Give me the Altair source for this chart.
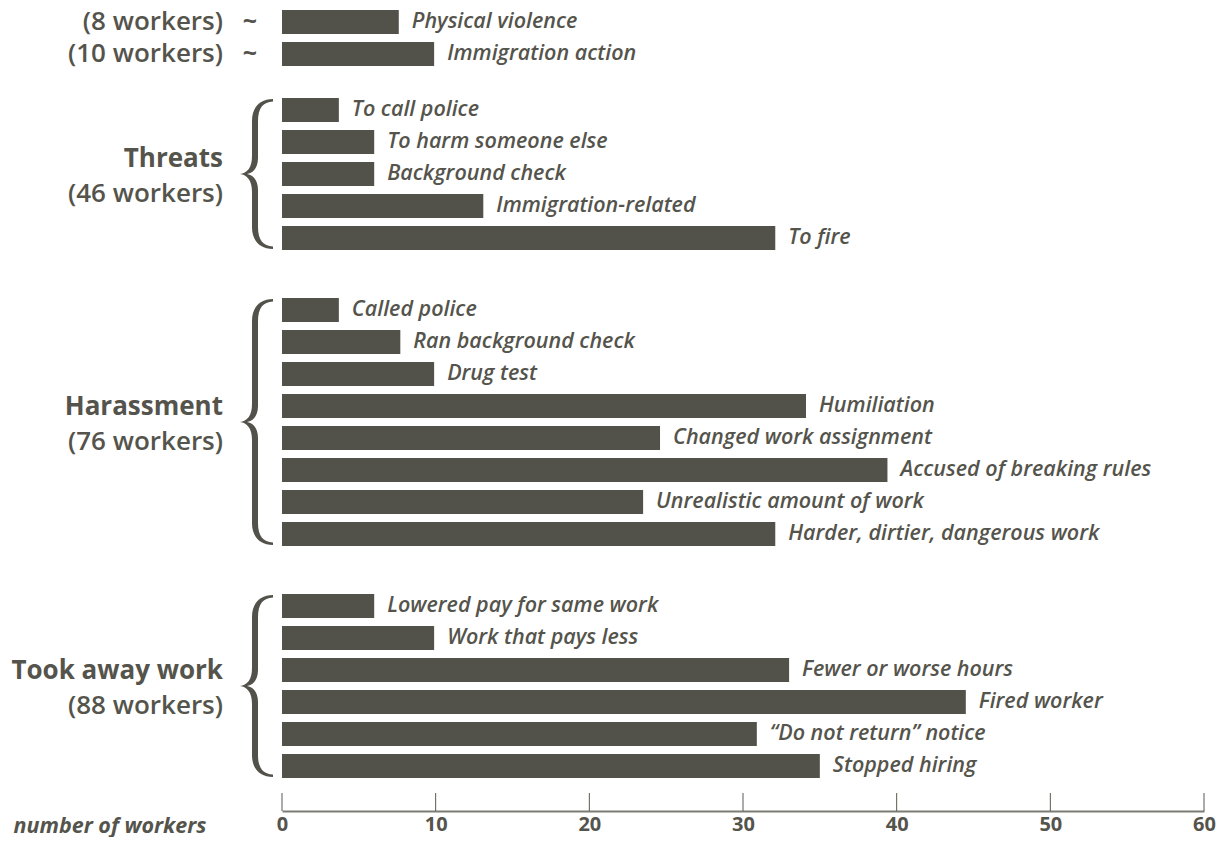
import altair as alt
import pandas as pd

# ---------------- data ----------------
top_items = ["Physical violence", "Immigration action"]
top_values = [7.6, 9.9]
top_counts = [8, 10]

threat_items = ["To call police", "To harm someone else", "Background check",
                "Immigration-related", "To fire"]
threat_values = [3.7, 6.0, 6.0, 13.1, 32.1]

harass_items = ["Called police", "Ran background check", "Drug test", "Humiliation",
                "Changed work assignment", "Accused of breaking rules",
                "Unrealistic amount of work", "Harder, dirtier, dangerous work"]
harass_values = [3.7, 7.7, 9.9, 34.1, 24.6, 39.4, 23.5, 32.1]

work_items = ["Lowered pay for same work", "Work that pays less", "Fewer or worse hours",
              "Fired worker", "\u201cDo not return\u201d notice", "Stopped hiring"]
work_values = [6.0, 9.9, 33.0, 44.5, 30.9, 35.0]

group_names = ["Threats", "Harassment", "Took away work"]
group_counts = [46, 76, 88]

x_ticks = [0, 10, 20, 30, 40, 50, 60]
x_title = "number of workers"

# ---------------- style ----------------
W = 922
STEP = 32
C_BAR = "#53524a"
C_TEXT = "#55544c"
C_DOMAIN = "#7d7c74"
FONT = "Open Sans"
LABEL_X = -59
BRACE_X = -27
TILDE_X = -32
GROUP_FS = 26
ITEM_FS = 21.5

xscale = alt.Scale(domain=[0, 60], nice=False, zero=True)


def brace_path(h):
    H = h / 2 - 1
    segs = [
        ("M", [18, -H]),
        ("C", [5, -H, -3, -H + 8, -3, -H + 22]),
        ("L", [-3, -18]),
        ("C", [-3, -6, -8, -1, -15, 0]),
        ("C", [-8, 1, -3, 6, -3, 18]),
        ("L", [-3, H - 22]),
        ("C", [-3, H - 8, 5, H, 18, H]),
        ("L", [18, H - 2.5]),
        ("C", [8, H - 3, 3, H - 9, 3, H - 22]),
        ("L", [3, 16]),
        ("C", [3, 6, -2, 1, -8, 0]),
        ("C", [-2, -1, 3, -6, 3, -16]),
        ("L", [3, -H + 22]),
        ("C", [3, -H + 9, 8, -H + 3, 18, -H + 2.5]),
    ]
    out = []
    for cmd, vals in segs:
        out.append(cmd + " ".join(f"{v / 100:.4f}" for v in vals))
    return " ".join(out) + " Z"


def panel(items, values, gap=0, name=None, count=None, counts=None):
    n = len(items)
    hb = STEP * n - 8          # height taken by the bars
    h = hb + gap               # panel height incl. empty space above
    po = (h / STEP - n + 0.25) / 2
    df = pd.DataFrame({"item": items, "value": values})
    if counts is not None:
        df["count"] = [f"({c} workers)" for c in counts]
        df["tilde"] = "~"
    y = alt.Y("item:N", sort=None, axis=None,
              scale=alt.Scale(paddingInner=0.25, paddingOuter=po, align=1))
    x = alt.X("value:Q", scale=xscale, axis=None)
    base = alt.Chart(df)
    bars = base.mark_bar(color=C_BAR).encode(x=x, y=y)
    labels = base.mark_text(align="left", baseline="middle", dx=13, font=FONT,
                            fontSize=ITEM_FS, fontStyle="italic", fontWeight=600,
                            color=C_TEXT).encode(x=x, y=y, text="item:N")
    layers = [bars, labels]
    if counts is not None:
        layers.append(base.mark_text(align="right", baseline="middle", font=FONT,
                                     fontSize=GROUP_FS, fontWeight=600, color=C_TEXT)
                      .encode(x=alt.value(LABEL_X), y=y, text="count:N"))
        layers.append(base.mark_text(align="center", baseline="middle", font=FONT,
                                     fontSize=25, fontWeight="bold", color=C_TEXT)
                      .encode(x=alt.value(TILDE_X), y=y, text="tilde:N"))
    if name is not None:
        cy = gap + hb / 2
        gdf = pd.DataFrame({"name": [name], "count": [f"({count} workers)"]})
        g = alt.Chart(gdf)
        layers.append(g.mark_text(align="right", baseline="middle", dy=-15, font=FONT,
                                  fontSize=GROUP_FS, fontWeight="bold", color=C_TEXT)
                      .encode(x=alt.value(LABEL_X), y=alt.value(cy), text="name:N"))
        layers.append(g.mark_text(align="right", baseline="middle", dy=20, font=FONT,
                                  fontSize=GROUP_FS, fontWeight=600, color=C_TEXT)
                      .encode(x=alt.value(LABEL_X), y=alt.value(cy), text="count:N"))
        layers.append(g.mark_point(shape=brace_path(hb), size=40000, filled=True,
                                   fill=C_BAR, opacity=1, strokeWidth=0)
                      .encode(x=alt.value(BRACE_X), y=alt.value(cy)))
    return alt.layer(*layers).properties(width=W, height=h)


top = panel(top_items, top_values, counts=top_counts)
threats = panel(threat_items, threat_values, 32, group_names[0], group_counts[0])
harass = panel(harass_items, harass_values, 48, group_names[1], group_counts[1])
work = panel(work_items, work_values, 48, group_names[2], group_counts[2])

AXIS_H = 33
TICK_LEN = 18
axis_df = pd.DataFrame({"value": x_ticks})
axis_panel = alt.Chart(axis_df).mark_rule(color="#5a5950", strokeWidth=1).encode(
    x=alt.X("value:Q", scale=xscale,
            axis=alt.Axis(values=x_ticks, title=x_title, grid=False, ticks=False,
                          domain=True, domainColor=C_DOMAIN, domainWidth=2,
                          labelFont=FONT, labelFontSize=20, labelFontWeight="bold",
                          labelColor=C_TEXT, labelPadding=3, labelFlush=False,
                          labelOverlap=False, titleFont=FONT, titleFontSize=21.5,
                          titleFontStyle="italic", titleFontWeight="bold",
                          titleColor=C_TEXT, titleX=-76, titleY=15, titleAlign="right",
                          titleBaseline="middle", titleAngle=0)),
    y=alt.value(AXIS_H - TICK_LEN),
    y2=alt.value(AXIS_H),
).properties(width=W, height=AXIS_H)

chart = (
    alt.vconcat(top, threats, harass, work, axis_panel, spacing=0, bounds="flush")
    .resolve_scale(y="independent")
    .properties(padding={"left": 3, "top": 1, "right": 0, "bottom": 0}, background="white")
    .configure_view(stroke=None)
)

chart.save("out.html", embed_options={"renderer": "svg", "actions": False})
